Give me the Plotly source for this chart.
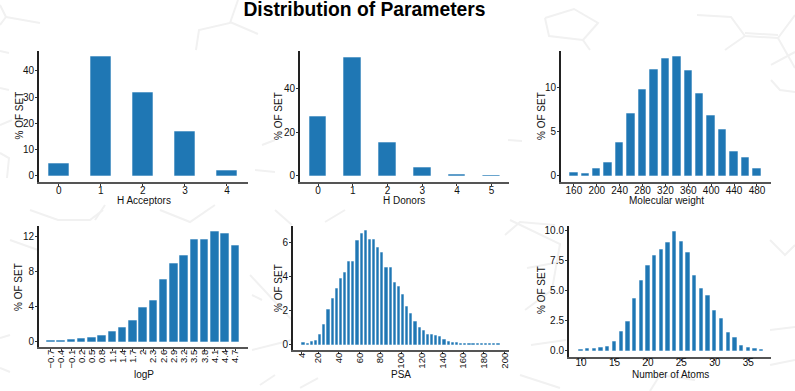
import plotly.graph_objects as go

W, H = 795, 391

# ---------- data ----------
acc_x = [0, 1, 2, 3, 4]
acc_y = [4.4, 45.3, 31.6, 16.8, 1.9]
don_x = [0, 1, 2, 3, 4, 5]
don_y = [27, 54, 15, 3.5, 0.6, 0.1]
mw_x = [160, 180, 200, 220, 240, 260, 280, 300, 320, 340, 360, 380, 400, 420, 440, 460, 480]
mw_y = [0.3, 0.2, 0.8, 1.45, 3.7, 7, 9.7, 12, 13.2, 13.4, 11.9, 9.2, 6.75, 5.15, 2.75, 2.05, 0.8]
logp_x = [-0.7, -0.4, -0.1, 0.2, 0.5, 0.8, 1.1, 1.4, 1.7, 2, 2.3, 2.6, 2.9, 3.2, 3.5, 3.8, 4.1, 4.4, 4.7]
logp_y = [0.05, 0.05, 0.2, 0.3, 0.4, 0.6, 1.05, 1.6, 2.4, 3.8, 4.6, 7, 8.85, 9.8, 11.6, 11.65, 12.5, 12.3, 10.9]
logp_labels = ["−0.7", "−0.4", "−0.1", "0.2", "0.5", "0.8", "1.1", "1.4", "1.7", "2", "2.3", "2.6", "2.9",
               "3.2", "3.5", "3.8", "4.1", "4.4", "4.7"]
psa_x = [6, 10, 14, 18, 22, 26, 30, 34, 38, 42, 46, 50, 54, 58, 62, 66, 70, 74, 78, 82, 86, 90, 94, 98,
         102, 106, 110, 114, 118, 122, 126, 130, 134, 138, 142, 146, 150, 154, 158, 162, 166, 170, 174,
         178, 182, 186, 190, 194]
psa_y = [0.07, 0.05, 0.15, 0.2, 0.55, 1.15, 2.05, 2.7, 3.3, 3.85, 4.25, 4.9, 4.9, 6.1, 6.5, 6.7, 6.2, 6.2,
         5.7, 5.4, 4.55, 4.5, 3.65, 3.4, 2.95, 2.2, 1.8, 1.35, 0.95, 0.8, 0.55, 0.55, 0.5, 0.45, 0.3, 0.13,
         0.1, 0.08, 0.06, 0.06, 0.03, 0.05, 0.04, 0.03, 0.03, 0.02, 0.01, 0.02]
psa_ticks = [4, 20, 40, 60, 80, 100, 120, 140, 160, 180, 200]
atoms_x = [10, 11, 12, 13, 14, 15, 16, 17, 18, 19, 20, 21, 22, 23, 24, 25, 26, 27, 28, 29, 30, 31, 32, 33,
           34, 35, 36, 37]
atoms_y = [0.07, 0.15, 0.15, 0.22, 0.3, 0.7, 1.55, 2.4, 4.3, 5.75, 7, 7.9, 8.4, 8.9, 9.85, 9.05, 8.1, 6.2,
           5.1, 4.55, 3.3, 2.6, 1.45, 1.05, 0.4, 0.25, 0.17, 0.03]

panels = [
    dict(x=acc_x, y=acc_y, w=0.48, title="H Acceptors", box=(39, 248, 51, 182), xr=(-0.47, 4.5),
         yr=(-2.3, 47.5), xt=acc_x, xl=None, yt=[0, 10, 20, 30, 40], yl=None, xtitle=(144, 200), ytitle=(18.5, 116),
         xfont=10, xoff=-4),
    dict(x=don_x, y=don_y, w=0.48, title="H Donors", box=(300, 509, 51, 182), xr=(-0.52, 5.5),
         yr=(-2.8, 57.1), xt=don_x, xl=None, yt=[0, 20, 40], yl=None, xtitle=(404, 200), ytitle=(278, 116),
         xfont=10, xoff=-4),
    dict(x=mw_x, y=mw_y, w=13, title="Molecular weight", box=(561, 771, 51, 182), xr=(137.5, 504.5),
         yr=(-0.68, 14.1), xt=list(range(160, 481, 40)), xl=None, yt=[0, 5, 10], yl=None,
         xtitle=(666, 200), ytitle=(541, 116), xfont=10, xoff=-4),
    dict(x=logp_x, y=logp_y, w=0.22, title="logP", box=(39, 248, 226, 347), xr=(-1.05, 5.07),
         yr=(-0.62, 13.2), xt=logp_x, xl=logp_labels, yt=[0, 4, 8, 12], yl=None, xtitle=(144, 374), ytitle=(18, 287),
         xfont=9.5, xoff=-5),
    dict(x=psa_x, y=psa_y, w=2.1, title="PSA", box=(293, 509, 226, 350), xr=(-4.2, 204.2),
         yr=(-0.32, 7.0), xt=psa_ticks, xl=None, yt=[0, 2, 4, 6], yl=None, xtitle=(401, 374), ytitle=(278, 288),
         xfont=9.5, xoff=-5),
    dict(x=atoms_x, y=atoms_y, w=0.5, title="Number of Atoms", box=(569, 771, 226, 357), xr=(8.2, 38.4),
         yr=(-0.52, 10.35), xt=[10, 15, 20, 25, 30, 35], xl=None, yt=[0, 2.5, 5, 7.5, 10],
         yl=["0.0", "2.5", "5.0", "7.5", "10.0"], xtitle=(670, 374), ytitle=(541, 290), xfont=10, xoff=-7),
]

# faint molecule wallpaper, page pixels
wallpaper = [
    [(0, 25), (6, 17), (0, 5)], [(6, 17), (40, 23)], [(196, 50), (199, 30), (230, 23), (238, 0)], [(230, 22), (258, 34)],
    [(0, 51), (9, 53)], [(0, 88), (9, 90)], [(0, 125), (12, 120)], [(0, 153), (9, 158), (7, 178)],
    [(545, 18), (574, 9), (598, 23), (583, 40), (590, 50)], [(545, 18), (549, 36), (583, 40)],
    [(697, 15), (731, 17), (745, 36), (778, 38), (795, 15)], [(745, 36), (725, 50)], [(745, 33), (778, 35)],
    [(778, 38), (795, 68)], [(771, 65), (795, 52)], [(771, 80), (780, 90), (795, 92)],
    [(255, 170), (275, 172)], [(275, 140), (262, 145)], [(508, 140), (522, 141)], [(505, 235), (520, 222), (555, 225)],
    [(30, 210), (58, 220), (90, 220), (103, 210)], [(95, 220), (105, 205)], [(160, 210), (190, 222), (215, 205)],
    [(275, 210), (292, 225)], [(325, 222), (345, 210)], [(510, 220), (560, 244), (552, 290), (525, 310)],
    [(250, 275), (292, 320)], [(252, 350), (292, 340)], [(0, 338), (10, 335)], [(0, 368), (10, 372)],
    [(252, 295), (262, 300)], [(770, 330), (795, 327)], [(770, 365), (795, 360)],
    [(770, 240), (785, 255), (795, 245)], [(260, 385), (275, 375)], [(300, 388), (318, 378)], [(520, 375), (560, 388)],
    [(527, 268), (560, 262)], [(531, 345), (566, 340)], [(650, 391), (660, 375), (695, 380)], [(10, 240), (38, 250)],
]

# ---------- figure ----------
fig = go.Figure()
layout = dict(
    width=W, height=H, autosize=False, margin=dict(l=0, r=0, t=0, b=0),
    paper_bgcolor="white", plot_bgcolor="white", showlegend=False, bargap=0,
    font=dict(family="Liberation Sans, Arial, sans-serif", color="#111111", size=10),
    title=dict(text="<b>Distribution of Parameters</b>", font=dict(size=19.3, color="black"),
               x=364.5 / W, xanchor="center", xref="paper", y=1 - 9 / H, yanchor="middle", yref="container"),
)

annotations = []
for i, p in enumerate(panels, start=1):
    l, r, t, b = p["box"]
    xname, yname = f"xaxis{i}", f"yaxis{i}"
    fig.add_trace(go.Bar(
        x=p["x"], y=p["y"], width=p["w"], xaxis=f"x{i}", yaxis=f"y{i}",
        marker=dict(color="#1f77b4", line=dict(color="rgba(31,119,180,0.42)", width=1)),
    ))
    layout[xname] = dict(
        domain=[l / W, r / W], range=list(p["xr"]), anchor=f"y{i}", tickmode="array",
        tickvals=p["xt"], ticktext=p["xl"] if p["xl"] else [str(v) for v in p["xt"]],
        tickangle=-90 if i in (4, 5) else 0, showgrid=False, zeroline=False, showline=True, linecolor="#555555",
        linewidth=2, ticks="outside", ticklen=2, tickcolor="#333333", ticklabelstandoff=p["xoff"],
        tickfont=dict(size=p["xfont"], color="#111111"), automargin=False,
    )
    layout[yname] = dict(
        domain=[1 - b / H, 1 - t / H], range=list(p["yr"]), anchor=f"x{i}", tickmode="array",
        tickvals=p["yt"], ticktext=p["yl"] if p["yl"] else [str(v) for v in p["yt"]],
        showgrid=False, zeroline=False, showline=True, linecolor="#222222", linewidth=2,
        ticks="outside", ticklen=2, tickcolor="#333333", ticklabelstandoff=-1,
        tickfont=dict(size=10, color="#111111"), automargin=False,
    )
    annotations.append(dict(text=p["title"], xref="paper", yref="paper", x=p["xtitle"][0] / W,
                            y=1 - p["xtitle"][1] / H, showarrow=False, xanchor="center", yanchor="middle",
                            font=dict(size=10, color="#111111")))
    annotations.append(dict(text="% OF SET", xref="paper", yref="paper", x=p["ytitle"][0] / W,
                            y=1 - p["ytitle"][1] / H, showarrow=False, xanchor="center", yanchor="middle",
                            textangle=-90, font=dict(size=10, color="#111111")))

shapes = []
for line in wallpaper:
    path = "M " + " L ".join(f"{x / W:.4f},{1 - y / H:.4f}" for x, y in line)
    shapes.append(dict(type="path", path=path, xref="paper", yref="paper", layer="below",
                       line=dict(color="#f1f1f1", width=2)))
layout["shapes"] = shapes
layout["annotations"] = annotations
fig.update_layout(**layout)

fig.write_html("out.html", config={"displayModeBar": False},
               post_script="document.body.style.margin='0';document.body.style.overflow='hidden';")
